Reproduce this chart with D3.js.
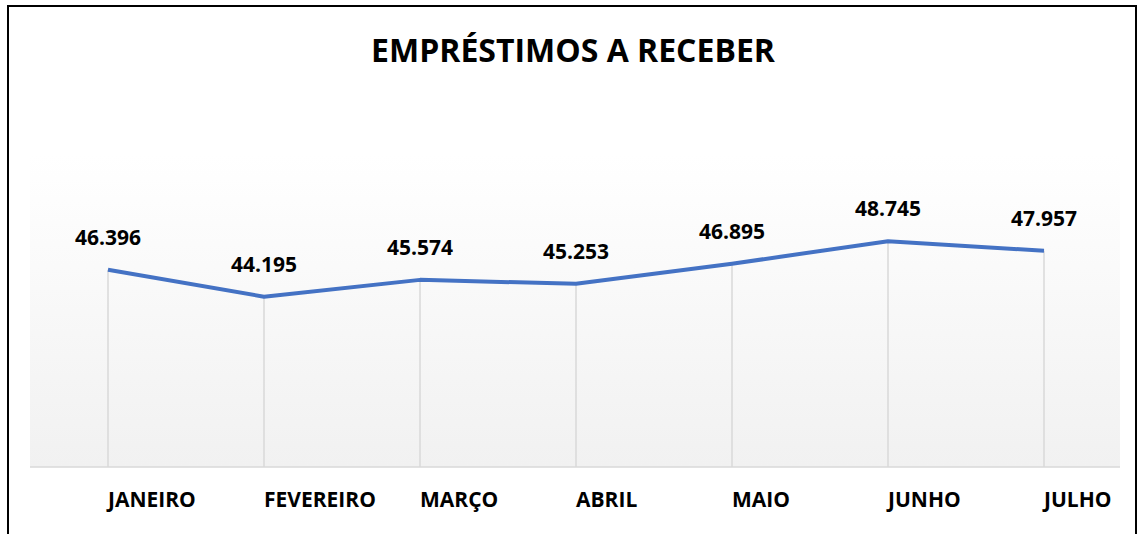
<!DOCTYPE html>
<html>
<head>
<meta charset="utf-8">
<script src="https://d3js.org/d3.v7.min.js"></script>
<style>
  body { margin: 0; background: #fff; }
  svg text { font-family: "Open Sans", "Liberation Sans", sans-serif; font-weight: 700; fill: #000; }
</style>
</head>
<body>
<svg id="chart"></svg>
<script>
  var width = 1144;
  var height = 534;

  // data
  var months = ["JANEIRO", "FEVEREIRO", "MARÇO", "ABRIL", "MAIO", "JUNHO", "JULHO"];
  var values = [46.396, 44.195, 45.574, 45.253, 46.895, 48.745, 47.957];
  var valueLabels = ["46.396", "44.195", "45.574", "45.253", "46.895", "48.745", "47.957"];
  var title = "EMPRÉSTIMOS A RECEBER";

  var plotLeft = 30, plotRight = 1122, plotTop = 155, plotBottom = 467;

  var svg = d3.select("#chart").attr("width", width).attr("height", height);

  var defs = svg.append("defs");
  var grad = defs.append("linearGradient")
    .attr("id", "bgGrad")
    .attr("x1", 0).attr("y1", 0).attr("x2", 0).attr("y2", 1);
  grad.append("stop").attr("offset", "0%").attr("stop-color", "#ffffff");
  grad.append("stop").attr("offset", "100%").attr("stop-color", "#f1f1f1");

  // outer frame
  svg.append("rect")
    .attr("x", 8).attr("y", 6)
    .attr("width", 1128).attr("height", 560)
    .attr("fill", "#fff")
    .attr("stroke", "#000").attr("stroke-width", 2);

  // title
  svg.append("text")
    .attr("x", 573).attr("y", 62)
    .attr("text-anchor", "middle")
    .style("font-size", "32px")
    .text(title);

  // plot background
  svg.append("rect")
    .attr("x", plotLeft).attr("y", plotTop)
    .attr("width", plotRight - plotLeft - 2).attr("height", plotBottom - plotTop)
    .attr("fill", "url(#bgGrad)");

  var x = d3.scalePoint()
    .domain(months)
    .range([plotLeft, plotRight])
    .padding(0.5);

  var y = d3.scaleLinear()
    .domain([30.25, 55.8])
    .range([plotBottom, plotTop]);

  var pts = months.map(function(m, i) { return { m: m, v: values[i], lab: valueLabels[i] }; });

  // drop lines
  svg.selectAll(".drop")
    .data(pts)
    .enter().append("line")
    .attr("class", "drop")
    .attr("x1", function(d) { return x(d.m); })
    .attr("x2", function(d) { return x(d.m); })
    .attr("y1", function(d) { return y(d.v); })
    .attr("y2", plotBottom)
    .attr("stroke", "#d9d9d9")
    .attr("stroke-width", 1.5);

  // baseline
  svg.append("line")
    .attr("x1", plotLeft).attr("x2", plotRight - 2)
    .attr("y1", plotBottom).attr("y2", plotBottom)
    .attr("stroke", "#d9d9d9").attr("stroke-width", 1.5);

  // the line
  var line = d3.line()
    .x(function(d) { return x(d.m); })
    .y(function(d) { return y(d.v); });

  svg.append("path")
    .datum(pts)
    .attr("d", line)
    .attr("fill", "none")
    .attr("stroke", "#4472c4")
    .attr("stroke-width", 4)
    .attr("stroke-linejoin", "round");

  // value labels
  svg.selectAll(".val")
    .data(pts)
    .enter().append("text")
    .attr("class", "val")
    .attr("x", function(d) { return x(d.m); })
    .attr("y", function(d) { return y(d.v) - 25; })
    .attr("text-anchor", "middle")
    .style("font-size", "21px")
    .text(function(d) { return d.lab; });

  // category labels (left aligned at the point, like the original)
  svg.selectAll(".cat")
    .data(months)
    .enter().append("text")
    .attr("class", "cat")
    .attr("x", function(d) { return x(d); })
    .attr("y", 507)
    .attr("text-anchor", "start")
    .style("font-size", "21px")
    .text(function(d) { return d; });
</script>
</body>
</html>
